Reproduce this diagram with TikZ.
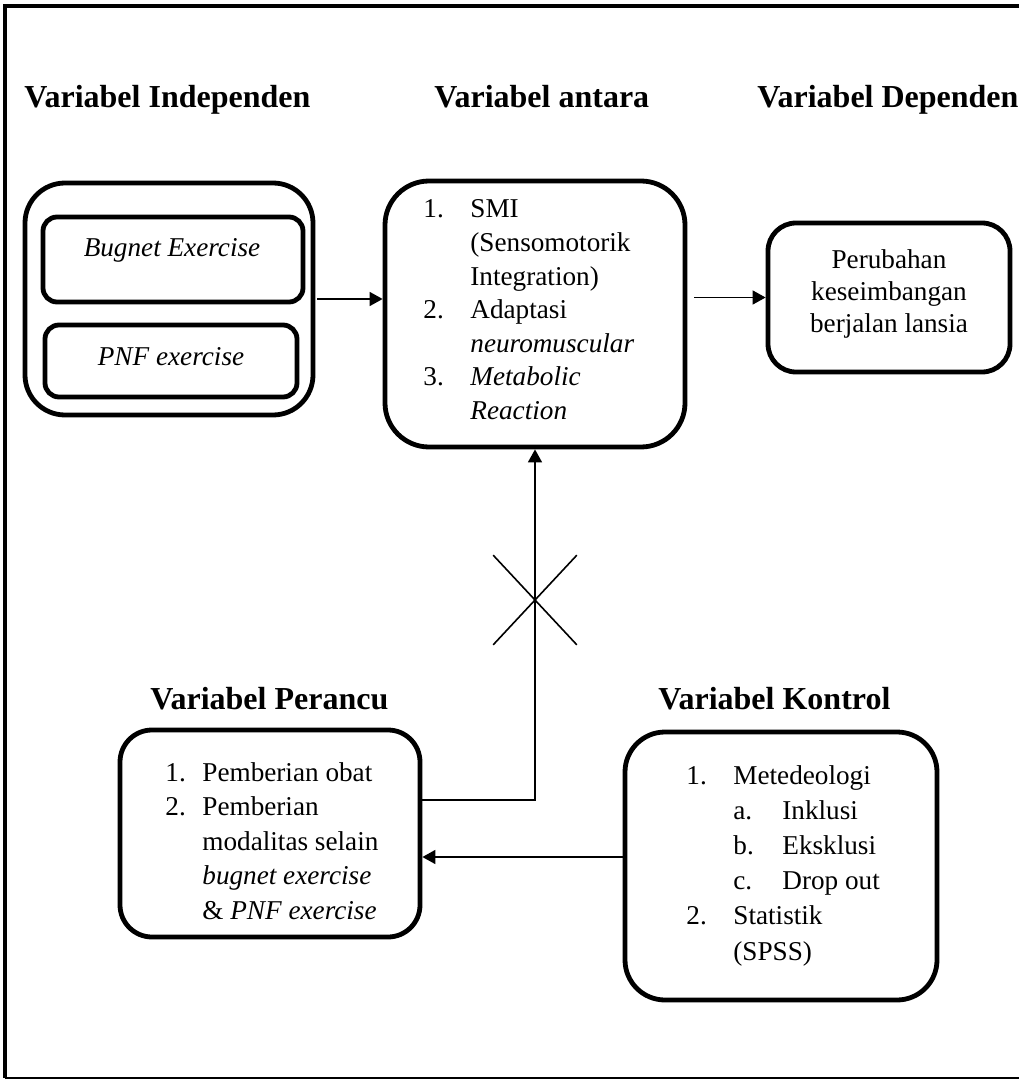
\documentclass[tikz,border=0pt]{standalone}
\usepackage{fontspec}
\setmainfont{Liberation Serif}
\usetikzlibrary{arrows.meta,shapes.misc}

\begin{document}
\begin{tikzpicture}[
		x=0.5pt, y=-0.5pt,
		font=\fontsize{13.6}{16.8}\selectfont,
		head/.style={font=\fontsize{16}{19}\selectfont\bfseries, anchor=base west, inner sep=0},
		list/.style={anchor=base west, inner sep=0},
		vbox/.style={draw, line width=2.4pt, rounded corners=#1, inner sep=0},
		conn/.style={line width=0.8pt},
		arr/.style={conn, -{Triangle[length=6.5pt,width=7pt]}},
		]
		\useasboundingbox (0,0) rectangle (1019,1080);
		% frame
		\draw[line width=2pt] (1019,6) -- (5,6) -- (5,1078);
		\draw[line width=1pt] (5,1078) -- (1019,1078);

		\node[head] (hindep) at (24,108) {Variabel Independen};
		\node[head] (hantara) at (434,108) {Variabel antara};
		\node[head] (hdep) at (757,108) {Variabel Dependen};
		\node[head] (hperancu) at (150,709) {Variabel Perancu};
		\node[head] (hkontrol) at (658,709) {Variabel Kontrol};

		\node[vbox=20pt, minimum width=144pt, minimum height=116pt] (indep) at (169,299) {};
		\node[vbox=7pt, minimum width=130pt, minimum height=42.5pt] (bugnet) at (173,259.5) {};
		\node (bugnettxt) at (172,250) {\textit{Bugnet Exercise}};
		\node[vbox=7pt, minimum width=126pt, minimum height=36pt] (pnf) at (171,361) {};
		\node (pnftxt) at (171,357) {\textit{PNF exercise}};

		\node[vbox=22pt, minimum width=150pt, minimum height=133pt] (antara) at (535,314) {};
		\node[list] (antaratxt) at (423,218) {\begin{tabular}[t]{@{}p{23.5pt}@{}l@{}}
			1. & SMI\\
			& (Sensomotorik\\
			& Integration)\\
			2. & Adaptasi\\
			& \textit{neuromuscular}\\
			3. & \textit{Metabolic}\\
			& \textit{Reaction}
		\end{tabular}};

		\node[vbox=14pt, minimum width=121pt, minimum height=74.5pt] (dep) at (889,297.5) {};
		\node[align=center, font=\fontsize{13.6}{15.8}\selectfont] (deptxt) at (889,294) {Perubahan\\keseimbangan\\berjalan lansia};

		\node[vbox=16pt, minimum width=150pt, minimum height=103.5pt] (perancu) at (270,833.5) {};
		\node[list, font=\fontsize{13.6}{17.3}\selectfont] (perancutxt) at (165,781) {\begin{tabular}[t]{@{}p{18.5pt}@{}l@{}}
			1. & Pemberian obat\\
			2. & Pemberian\\
			& modalitas selain\\
			& \textit{bugnet exercise}\\
			& \& \textit{PNF exercise}
		\end{tabular}};

		\node[vbox=20pt, minimum width=156pt, minimum height=134pt] (kontrol) at (781,866) {};
		\node[list, font=\fontsize{13.6}{17.6}\selectfont] (kontroltxt) at (686,784) {\begin{tabular}[t]{@{}p{23.5pt}@{}p{24.5pt}@{}l@{}}
			1. & \multicolumn{2}{@{}l@{}}{Metedeologi}\\
			& a. & Inklusi\\
			& b. & Eksklusi\\
			& c. & Drop out\\
			2. & \multicolumn{2}{@{}l@{}}{Statistik}\\
			& \multicolumn{2}{@{}l@{}}{(SPSS)}
		\end{tabular}};

		% connectors
		\draw[arr, shorten <=1pt] (indep.east) -- (indep.east -| antara.west);
		\draw[arr, shorten <=3.5pt] (antara.east |- dep.west) -- (dep.west);
		\draw[arr] ([yshift=16.75pt]perancu.east) -| (antara.south);
		\draw[arr] ([yshift=4.5pt]kontrol.west) -- ([yshift=4.5pt]kontrol.west -| perancu.east);
		\node[conn, draw, cross out, minimum width=41pt, minimum height=44pt] (cut) at (antara.south |- 0,600) {};
\end{tikzpicture}
\end{document}
